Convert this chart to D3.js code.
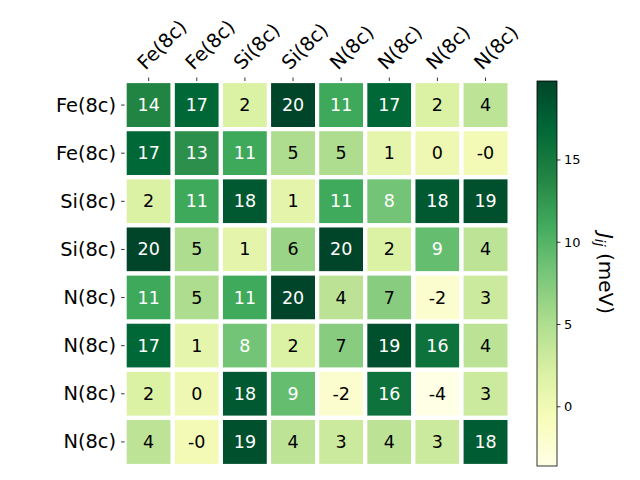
<!DOCTYPE html>
<html><head><meta charset="utf-8">
<script src="https://cdn.jsdelivr.net/npm/d3@7"></script>
<style>body{margin:0;background:#fff}svg{display:block;font-family:"DejaVu Sans",sans-serif}</style>
</head><body>
<svg id="c" width="640" height="480"></svg>
<script>
const rowLabels = ["Fe(8c)","Fe(8c)","Si(8c)","Si(8c)","N(8c)","N(8c)","N(8c)","N(8c)"];
const colLabels = ["Fe(8c)","Fe(8c)","Si(8c)","Si(8c)","N(8c)","N(8c)","N(8c)","N(8c)"];
const values = [
  [14.0, 16.9,  2.1, 19.8, 11.2, 16.9,  2.1,  4.1],
  [16.9, 13.1, 11.2,  5.1,  5.1,  1.0,  0.2, -0.3],
  [ 2.1, 11.2, 18.1,  1.2, 11.1,  8.3, 18.1, 19.0],
  [19.8,  5.1,  1.2,  6.2, 19.8,  2.1,  9.1,  4.1],
  [11.2,  5.1, 11.1, 19.8,  4.2,  7.2, -2.1,  3.1],
  [16.9,  1.0,  8.3,  2.1,  7.2, 18.9, 15.8,  4.2],
  [ 2.1,  0.2, 18.1,  9.1, -2.1, 15.8, -3.6,  3.1],
  [ 4.1, -0.3, 19.0,  4.1,  3.1,  4.2,  3.1, 17.9]
];
const cbTicks = [0, 5, 10, 15];
const ylgn = ["#ffffe5","#f7fcb9","#d9f0a3","#addd8e","#78c679","#41ab5d","#238443","#006837","#004529"];

const svg = d3.select("#c");
const L = 124.6, R = 509.6, T = 81, B = 466;
const flat = values.flat();
const [vmin, vmax] = d3.extent(flat);
const color = d3.scaleLinear()
  .domain(ylgn.map((_, i) => vmin + (vmax - vmin) * i / (ylgn.length - 1)))
  .range(ylgn).interpolate(d3.interpolateRgb).clamp(true);
const thresh = (vmin + vmax) / 2;

const x = d3.scaleBand().domain(d3.range(colLabels.length)).range([L, R]);
const y = d3.scaleBand().domain(d3.range(rowLabels.length)).range([T, B]);

const cells = [];
values.forEach((row, i) => row.forEach((v, j) => cells.push({i, j, v})));

const g = svg.append("g");
g.selectAll("rect.cell").data(cells).join("rect")
  .attr("x", d => x(d.j)).attr("y", d => y(d.i))
  .attr("width", x.bandwidth()).attr("height", y.bandwidth())
  .attr("fill", d => color(d.v))
  .attr("stroke", "#fff").attr("stroke-width", 4.2);

g.selectAll("text.ann").data(cells).join("text")
  .attr("x", d => x(d.j) + x.bandwidth() / 2)
  .attr("y", d => y(d.i) + y.bandwidth() / 2)
  .attr("text-anchor", "middle").attr("dominant-baseline", "central")
  .attr("font-size", "17.5px")
  .attr("fill", d => d.v > thresh ? "#ffffff" : "#000000")
  .text(d => d.v.toFixed(0));

// top x axis
const xa = svg.append("g");
xa.selectAll("line").data(d3.range(colLabels.length)).join("line")
  .attr("x1", j => x(j) + x.bandwidth() / 2).attr("x2", j => x(j) + x.bandwidth() / 2)
  .attr("y1", T).attr("y2", T - 3.5).attr("stroke", "#000").attr("stroke-width", 0.8);
xa.selectAll("text").data(colLabels).join("text")
  .attr("transform", (d, j) => `translate(${x(j) + x.bandwidth() / 2},${T - 7}) rotate(-45)`)
  .attr("dy", -4.6).attr("text-anchor", "start").attr("font-size", "19.4px").attr("fill", "#000")
  .text(d => d);

// left y axis
const ya = svg.append("g");
ya.selectAll("line").data(d3.range(rowLabels.length)).join("line")
  .attr("y1", i => y(i) + y.bandwidth() / 2).attr("y2", i => y(i) + y.bandwidth() / 2)
  .attr("x1", L).attr("x2", L - 3.5).attr("stroke", "#000").attr("stroke-width", 0.8);
ya.selectAll("text").data(rowLabels).join("text")
  .attr("x", L - 8.5).attr("y", (d, i) => y(i) + y.bandwidth() / 2)
  .attr("text-anchor", "end").attr("dominant-baseline", "central")
  .attr("font-size", "19.4px").attr("fill", "#000").text(d => d);

// colorbar
const cbL = 537, cbR = 557;
const cy = d3.scaleLinear().domain([vmin, vmax]).range([B, T]);
const defs = svg.append("defs");
const grad = defs.append("linearGradient").attr("id", "cbg")
  .attr("x1", 0).attr("y1", 1).attr("x2", 0).attr("y2", 0);
d3.range(0, 1.0001, 0.02).forEach(t => {
  grad.append("stop").attr("offset", t).attr("stop-color", color(vmin + t * (vmax - vmin)));
});
svg.append("rect").attr("x", cbL).attr("y", T).attr("width", cbR - cbL).attr("height", B - T)
  .attr("fill", "url(#cbg)").attr("stroke", "#000").attr("stroke-width", 0.8);
const cb = svg.append("g");
cb.selectAll("line").data(cbTicks).join("line")
  .attr("x1", cbR).attr("x2", cbR + 3.5).attr("y1", d => cy(d)).attr("y2", d => cy(d))
  .attr("stroke", "#000").attr("stroke-width", 0.8);
cb.selectAll("text").data(cbTicks).join("text")
  .attr("x", cbR + 7).attr("y", d => cy(d)).attr("dominant-baseline", "central")
  .attr("font-size", "13px").attr("fill", "#000").text(d => d);

const lab = svg.append("text")
  .attr("transform", `translate(598.5,${(T + B) / 2}) rotate(90)`)
  .attr("text-anchor", "middle").attr("font-size", "20px").attr("fill", "#000");
lab.append("tspan").attr("font-style", "italic").text("J");
lab.append("tspan").attr("font-style", "italic").attr("font-size", "14px").attr("dy", 4).text("ij");
lab.append("tspan").attr("dy", -4).text(" (meV)");
</script>
</body></html>
